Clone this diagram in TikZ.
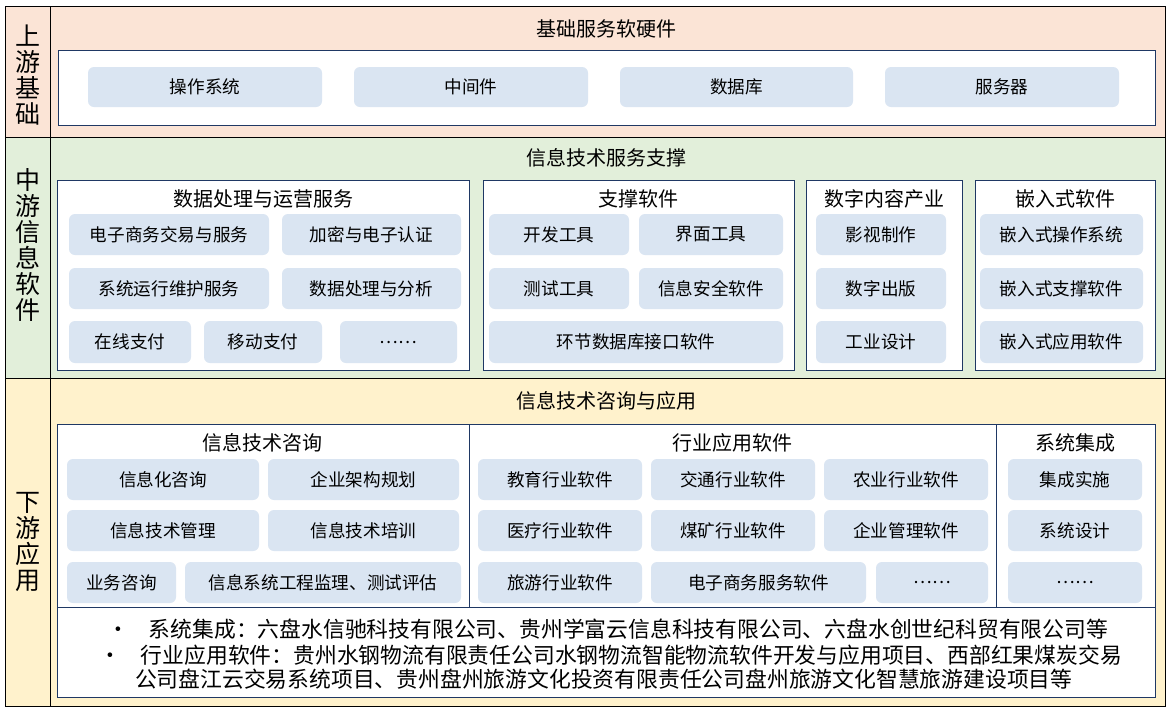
\documentclass[tikz,border=0pt]{standalone}
\usepackage{fontspec}
\setmainfont{Noto Sans CJK SC}
\usepackage{tikz}
\usetikzlibrary{positioning}

\definecolor{upband}{RGB}{251,228,214}
\definecolor{midband}{RGB}{226,239,218}
\definecolor{lowband}{RGB}{255,242,204}
\definecolor{itemblue}{RGB}{218,229,242}
\definecolor{frameblue}{RGB}{31,56,100}

% item box: x1, x2, y1, y2, name, text
\newcommand\ib[6]{\node[item, minimum width={(#2-#1)*0.5pt}, minimum height={(#4-#3)*0.5pt}] (#5) at ({(#1+#2)/2},{(#3+#4)/2}) {#6};}

\begin{document}
\begin{tikzpicture}[x=0.5pt,y=-0.5pt,
    item/.style={fill=itemblue, rounded corners=3pt, inner sep=0pt, font=\fontsize{8.8}{10}\selectfont},
    panel/.style={draw=frameblue, fill=white, line width=0.5pt},
    paneltitle/.style={font=\fontsize{10}{12}\selectfont},
    extext/.style={font=\fontsize{10.9}{12}\selectfont, anchor=west},
    sidelabel/.style={font=\fontsize{12.5}{14}\selectfont, align=center}]
    \useasboundingbox (0,0) rectangle (1170,713);

    %Bands
    \draw[fill=upband] (5,6) rectangle (1165,137);
    \draw[fill=midband] (5,137) rectangle (1165,378);
    \draw[fill=lowband] (5,378) rectangle (1165,706);
    \draw (50,6) -- (50,706);

    %Side labels
    \node[sidelabel] (up) at (28,75) {上\\[-1pt]游\\[-1pt]基\\[-1pt]础};
    \node[sidelabel] (mid) at (28,245) {中\\[-1pt]游\\[-1pt]信\\[-1pt]息\\[-1pt]软\\[-1pt]件};
    \node[sidelabel] (low) at (28,542) {下\\[-1pt]游\\[-1pt]应\\[-1pt]用};

    %Upstream
    \node[paneltitle] (uptitle) at (606,29) {基础服务软硬件};
    \draw[panel] (58,50) rectangle (1155,125);
    \ib{88}{322}{67}{107}{os}{操作系统}
    \ib{354}{588}{67}{107}{mw}{中间件}
    \ib{620}{853}{67}{107}{db}{数据库}
    \ib{885}{1119}{67}{107}{srv}{服务器}

    %Midstream
    \node[paneltitle] (midtitle) at (606,158) {信息技术服务支撑};
    \draw[panel] (57,180) rectangle (469,370);
    \draw[panel] (483,180) rectangle (794,370);
    \draw[panel] (806,180) rectangle (962,370);
    \draw[panel] (975,180) rectangle (1155,370);
    \node[paneltitle] (dpt) at (263,199) {数据处理与运营服务};
    \node[paneltitle] (sst) at (638,199) {支撑软件};
    \node[paneltitle] (dct) at (884,199) {数字内容产业};
    \node[paneltitle] (est) at (1065,199) {嵌入式软件};

    \ib{69}{269}{214}{255}{ec}{电子商务交易与服务}
    \ib{282}{461}{214}{255}{enc}{加密与电子认证}
    \ib{69}{269}{268}{309}{ops}{系统运行维护服务}
    \ib{282}{461}{268}{309}{dpa}{数据处理与分析}
    \ib{69}{191}{321}{363}{olp}{在线支付}
    \ib{204}{322}{321}{363}{mbp}{移动支付}
    \ib{340}{457}{321}{363}{dpx}{……}

    \ib{489}{629}{214}{255}{dev}{开发工具}
    \ib{639}{783}{214}{255}{ui}{界面工具}
    \ib{489}{629}{268}{309}{tst}{测试工具}
    \ib{639}{783}{268}{309}{sec}{信息安全软件}
    \ib{489}{783}{321}{363}{dbi}{环节数据库接口软件}

    \ib{816}{946}{214}{255}{film}{影视制作}
    \ib{816}{946}{268}{309}{pub}{数字出版}
    \ib{816}{946}{321}{363}{ind}{工业设计}

    \ib{980}{1143}{214}{255}{eos}{嵌入式操作系统}
    \ib{980}{1143}{268}{309}{esp}{嵌入式支撑软件}
    \ib{980}{1143}{321}{363}{eap}{嵌入式应用软件}

    %Downstream
    \node[paneltitle] (lowtitle) at (606,401) {信息技术咨询与应用};
    \draw[panel] (57,424) rectangle (1155,697);
    \draw[frameblue, line width=0.5pt] (469,424) -- (469,607) (996,424) -- (996,607) (57,607) -- (1155,607);
    \node[paneltitle] (cst) at (262,443) {信息技术咨询};
    \node[paneltitle] (ast) at (732,443) {行业应用软件};
    \node[paneltitle] (sit) at (1075,443) {系统集成};

    \ib{67}{259}{459}{500}{ic}{信息化咨询}
    \ib{268}{459}{459}{500}{ea}{企业架构规划}
    \ib{67}{259}{510}{551}{itm}{信息技术管理}
    \ib{268}{459}{510}{551}{itt}{信息技术培训}
    \ib{67}{176}{562}{603}{bc}{业务咨询}
    \ib{185}{461}{562}{603}{sup}{信息系统工程监理、测试评估}

    \ib{478}{642}{459}{500}{edu}{教育行业软件}
    \ib{651}{815}{459}{500}{tra}{交通行业软件}
    \ib{824}{988}{459}{500}{agr}{农业行业软件}
    \ib{478}{642}{510}{551}{med}{医疗行业软件}
    \ib{651}{815}{510}{551}{coal}{煤矿行业软件}
    \ib{824}{988}{510}{551}{ent}{企业管理软件}
    \ib{478}{642}{562}{603}{tour}{旅游行业软件}
    \ib{651}{866}{562}{603}{ecs}{电子商务服务软件}
    \ib{876}{988}{562}{603}{apx}{……}

    \ib{1008}{1142}{459}{500}{imp}{集成实施}
    \ib{1008}{1142}{510}{551}{sd}{系统设计}
    \ib{1008}{1142}{562}{603}{six}{……}

    %Examples
    \node[extext] (ex1) at (100,629) {•\hspace{10pt}系统集成：六盘水信驰科技有限公司、贵州学富云信息科技有限公司、六盘水创世纪科贸有限公司等};
    \node[extext] (ex2) at (92,655) {•\hspace{10pt}行业应用软件：贵州水钢物流有限责任公司水钢物流智能物流软件开发与应用项目、西部红果煤炭交易};
    \node[extext] (ex3) at (128,679) {公司盘江云交易系统项目、贵州盘州旅游文化投资有限责任公司盘州旅游文化智慧旅游建设项目等};
\end{tikzpicture}
\end{document}
